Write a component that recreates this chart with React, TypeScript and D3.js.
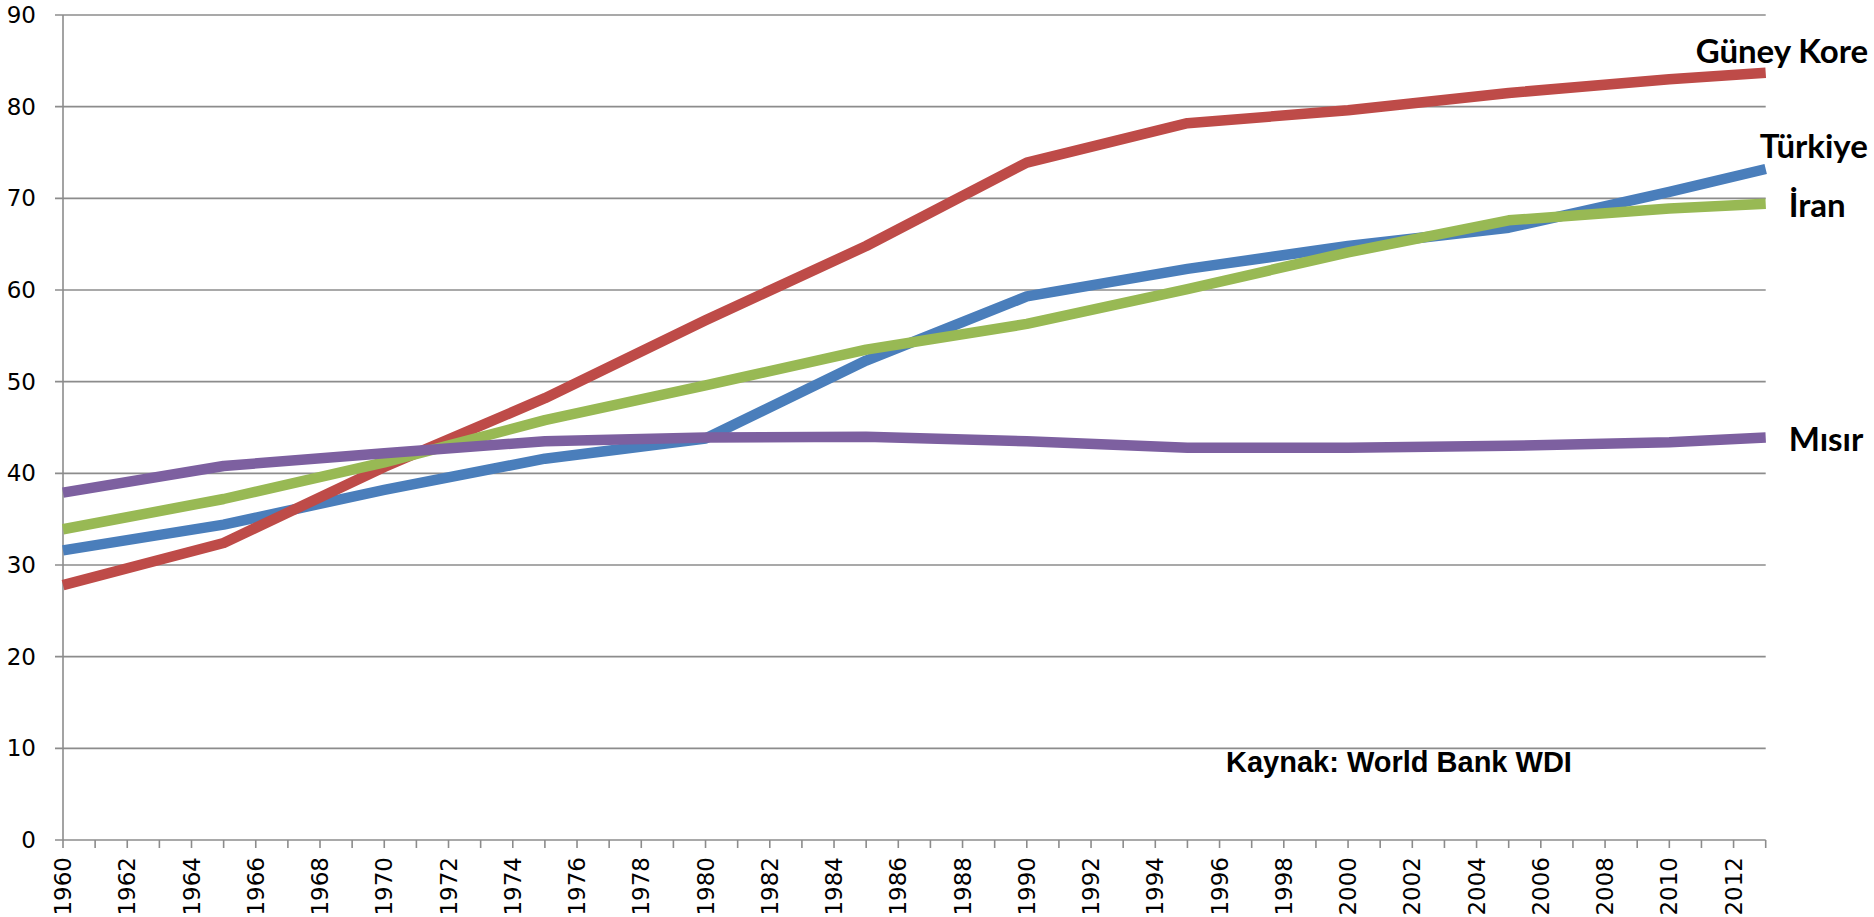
import React from "react";
import * as d3 from "d3";

const years = [1960, 1965, 1970, 1975, 1980, 1985, 1990, 1995, 2000, 2005, 2010, 2013];
const turkiye = [31.6, 34.4, 38.2, 41.6, 43.8, 52.3, 59.3, 62.3, 64.8, 66.8, 70.7, 73.2];
const guneyKore = [27.8, 32.4, 40.7, 48.2, 56.7, 64.8, 73.9, 78.2, 79.6, 81.5, 83.0, 83.7];
const iran = [33.9, 37.2, 41.2, 45.8, 49.6, 53.5, 56.3, 60.1, 64.1, 67.6, 68.9, 69.4];
const misir = [37.9, 40.8, 42.2, 43.5, 43.9, 44.0, 43.5, 42.8, 42.8, 43.0, 43.4, 43.9];

const yTicks = [0, 10, 20, 30, 40, 50, 60, 70, 80, 90];
const xTickYears = d3.range(1960, 2014);
const xLabelYears = d3.range(1960, 2013, 2);

const seriesList = [
  { name: "Türkiye", values: turkiye, color: "#4A7EBB", dx: -6, dy: -11 },
  { name: "Güney Kore", values: guneyKore, color: "#BE4B48", dx: -70, dy: -10 },
  { name: "İran", values: iran, color: "#98B954", dx: 23, dy: 13 },
  { name: "Mısır", values: misir, color: "#7D60A0", dx: 23, dy: 13 },
];

export default function App() {
  const W = 1874;
  const H = 917;
  const x = d3.scaleLinear().domain([1960, 2013]).range([63, 1765.7]);
  const y = d3.scaleLinear().domain([0, 90]).range([840, 15]);
  const line = d3
    .line<number>()
    .x((_, i) => x(years[i]))
    .y((d) => y(d));
  const grid = "#8C8C8C";
  const labelFont = "DejaVu Sans, sans-serif";
  return (
    <svg
      width={W}
      height={H}
      style={{ position: "absolute", left: 0, top: 0, background: "#fff" }}
    >
      {yTicks.map((t) => (
        <g key={t}>
          <line x1={55} x2={1765.7} y1={y(t)} y2={y(t)} stroke={grid} strokeWidth={1.6} />
          <text
            x={36}
            y={y(t)}
            textAnchor="end"
            dominantBaseline="central"
            fontFamily={labelFont}
            fontSize={23}
            fill="#000"
          >
            {t}
          </text>
        </g>
      ))}
      <line x1={63} x2={63} y1={y(90)} y2={y(0)} stroke={grid} strokeWidth={1.6} />
      {xTickYears.map((yr) => (
        <line key={yr} x1={x(yr)} x2={x(yr)} y1={840} y2={848} stroke={grid} strokeWidth={1.6} />
      ))}
      {xLabelYears.map((yr) => (
        <text
          key={yr}
          transform={`translate(${x(yr)},857) rotate(-90)`}
          textAnchor="end"
          dominantBaseline="central"
          fontFamily={labelFont}
          fontSize={23}
          fill="#000"
        >
          {yr}
        </text>
      ))}
      {seriesList.map((s) => (
        <path
          key={s.name}
          d={line(s.values) || ""}
          fill="none"
          stroke={s.color}
          strokeWidth={10.5}
          strokeLinejoin="round"
          strokeLinecap="butt"
        />
      ))}
      {seriesList.map((s) => (
        <text
          key={s.name + "-l"}
          x={x(2013) + s.dx}
          y={y(s.values[s.values.length - 1]) + s.dy}
          fontFamily="Lato, sans-serif"
          fontWeight="bold"
          fontSize={33}
          fill="#000"
        >
          {s.name}
        </text>
      ))}
      <text
        x={1226}
        y={772}
        fontFamily="Liberation Sans, Arial, sans-serif"
        fontWeight="bold"
        fontSize={29}
        fill="#000"
      >
        Kaynak: World Bank WDI
      </text>
    </svg>
  );
}
